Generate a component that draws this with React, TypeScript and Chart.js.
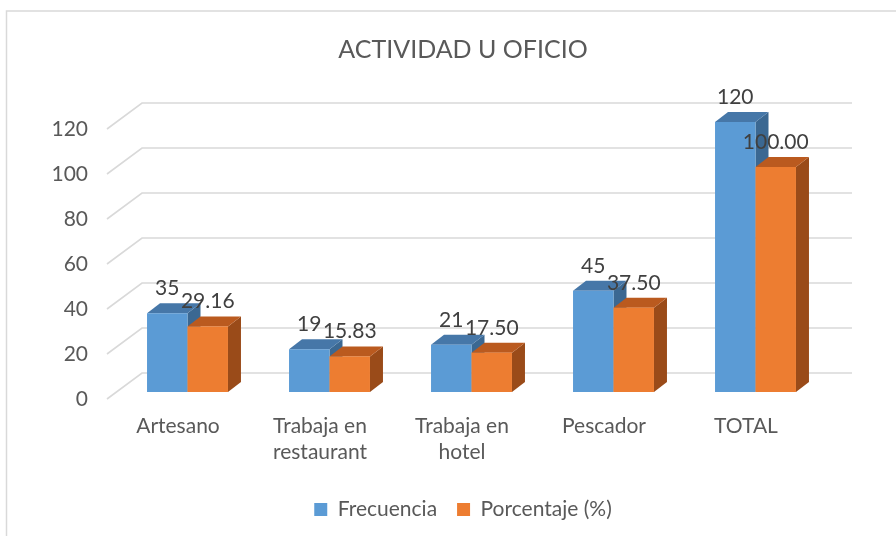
import React, { useEffect, useRef } from "react";
import { Chart, registerables } from "chart.js";

Chart.register(...registerables);

const title = "ACTIVIDAD U OFICIO";
const categories: (string | string[])[] = [
  "Artesano",
  ["Trabaja en", "restaurant"],
  ["Trabaja en", "hotel"],
  "Pescador",
  "TOTAL",
];
const frecuencia = [35, 19, 21, 45, 120];
const porcentaje = [29.16, 15.83, 17.5, 37.5, 100.0];
const yMin = 0;
const yMax = 120;
const yStep = 20;

const FONT = "Lato";
const TEXT = "#595959";
const LABEL = "#404040";
const GRID = "#d9d9d9";
const FRONT = ["#5B9BD5", "#ED7D31"];
const TOP = ["#4677A8", "#BA5A1F"];
const SIDE = ["#3B6892", "#9A4B19"];

// 3D geometry (pixels)
const WALL = { dx: 35, dy: -26 }; // full depth of the plot box
const BAR_OFF = { dx: 9.5, dy: -7 }; // bar front face depth
const BAR_DEPTH = { dx: 13, dy: -10 }; // bar thickness

const threeD = {
  id: "threeD",
  beforeDraw(chart: any) {
    const ctx = chart.ctx;
    ctx.save();
    ctx.strokeStyle = GRID;
    ctx.lineWidth = 1.5;
    ctx.strokeRect(6.5, 11, 2000, 2000);
    const { left, right } = chart.chartArea;
    const ys = chart.scales.y;
    ctx.lineWidth = 1.6;
    ys.ticks.forEach((t: any) => {
      const y = ys.getPixelForValue(t.value);
      ctx.beginPath();
      ctx.moveTo(left, y);
      ctx.lineTo(left + WALL.dx, y + WALL.dy);
      ctx.lineTo(right + WALL.dx, y + WALL.dy);
      ctx.stroke();
    });
    ctx.restore();
  },
  beforeDatasetsDraw(chart: any) {
    const ctx = chart.ctx;
    const n = chart.data.labels.length;
    ctx.save();
    for (let i = 0; i < n; i++) {
      chart.data.datasets.forEach((ds: any, d: number) => {
        const el = chart.getDatasetMeta(d).data[i];
        const xl = el.x - el.width / 2 + BAR_OFF.dx;
        const xr = el.x + el.width / 2 + BAR_OFF.dx;
        const yt = el.y + BAR_OFF.dy;
        const yb = el.base + BAR_OFF.dy;
        const { dx, dy } = BAR_DEPTH;
        ctx.fillStyle = SIDE[d];
        ctx.beginPath();
        ctx.moveTo(xr, yt);
        ctx.lineTo(xr + dx, yt + dy);
        ctx.lineTo(xr + dx, yb + dy);
        ctx.lineTo(xr, yb);
        ctx.closePath();
        ctx.fill();
        ctx.fillStyle = TOP[d];
        ctx.beginPath();
        ctx.moveTo(xl, yt);
        ctx.lineTo(xr, yt);
        ctx.lineTo(xr + dx, yt + dy);
        ctx.lineTo(xl + dx, yt + dy);
        ctx.closePath();
        ctx.fill();
        ctx.fillStyle = FRONT[d];
        ctx.fillRect(xl, yt, xr - xl, yb - yt);
      });
    }
    ctx.fillStyle = LABEL;
    ctx.font = `21px ${FONT}`;
    ctx.textAlign = "center";
    ctx.textBaseline = "alphabetic";
    chart.data.datasets.forEach((ds: any, d: number) => {
      chart.getDatasetMeta(d).data.forEach((el: any, i: number) => {
        const v = ds.data[i];
        const txt = d === 0 ? String(v) : v.toFixed(2);
        ctx.fillText(txt, el.x + BAR_OFF.dx, el.y + BAR_OFF.dy - 18);
      });
    });
    ctx.restore();
    return false;
  },
};

export default function App() {
  const ref = useRef<HTMLCanvasElement | null>(null);
  useEffect(() => {
    if (!ref.current) return;
    const chart = new Chart(ref.current, {
      type: "bar",
      data: {
        labels: categories as any,
        datasets: [
          { label: "Frecuencia", data: frecuencia, backgroundColor: FRONT[0] },
          { label: "Porcentaje (%)", data: porcentaje, backgroundColor: FRONT[1] },
        ],
      },
      options: {
        responsive: false,
        devicePixelRatio: 1,
        animation: false,
        layout: { padding: { left: 30, right: 0, top: 0, bottom: 6 } },
        datasets: { bar: { categoryPercentage: 0.57, barPercentage: 1 } },
        scales: {
          x: {
            grid: { display: false, drawTicks: false },
            border: { display: false },
            ticks: {
              font: { family: FONT, size: 21, lineHeight: 1.2 },
              color: TEXT,
              padding: 15,
              maxRotation: 0,
              autoSkip: false,
            },
            afterFit: (s: any) => {
              s.height = 80;
            },
          },
          y: {
            min: yMin,
            max: yMax,
            grid: { display: false, drawTicks: false },
            border: { display: false },
            ticks: {
              stepSize: yStep,
              font: { family: FONT, size: 21 },
              color: TEXT,
              padding: 19,
            },
            afterFit: (s: any) => {
              s.width = 77;
            },
          },
          y2: {
            position: "right",
            display: true,
            grid: { display: false, drawTicks: false },
            border: { display: false },
            ticks: { display: false },
            afterFit: (s: any) => {
              s.width = 79;
            },
          },
        },
        plugins: {
          title: {
            display: true,
            text: title,
            font: { family: FONT, size: 25, weight: "normal", lineHeight: 1.2 },
            color: TEXT,
            padding: { top: 35, bottom: 64 },
          },
          legend: {
            position: "bottom",
            labels: {
              boxWidth: 13,
              boxHeight: 13,
              padding: 20,
              font: { family: FONT, size: 21 },
              color: TEXT,
            },
          },
          tooltip: { enabled: false },
        },
      },
      plugins: [threeD],
    });
    return () => chart.destroy();
  }, []);
  return (
    <div style={{ position: "fixed", left: 0, top: 0, width: 896, height: 536, background: "#fff" }}>
      <canvas ref={ref} width={896} height={536} />
    </div>
  );
}
